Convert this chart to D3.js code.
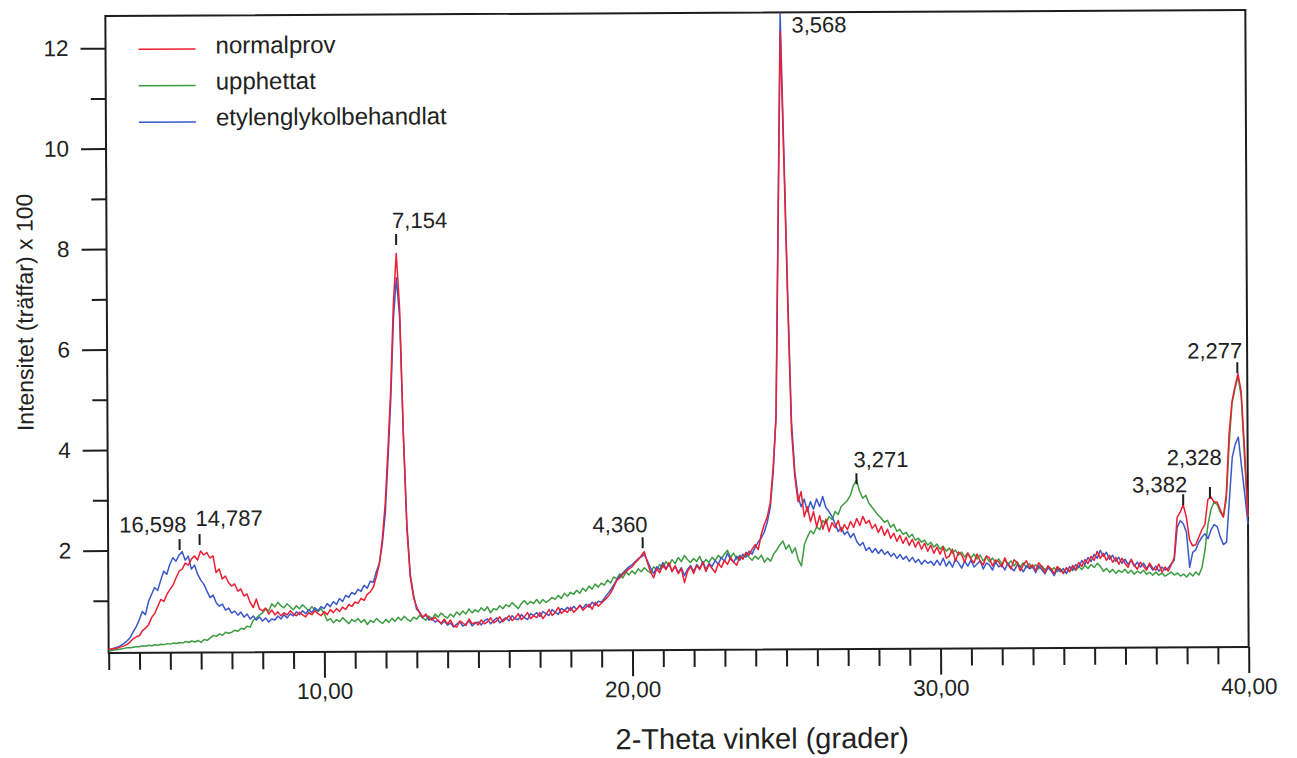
<!DOCTYPE html>
<html>
<head>
  <meta charset="utf-8">
  <title>Röntgendiffraktogram</title>
  <script src="https://d3js.org/d3.v7.min.js"></script>
  <style>
    body {
      margin: 0;
      background: #fff;
      font-family: 'Liberation Sans', Arial, Helvetica, sans-serif;
    }
    svg { display: block; }
    .axis text { fill: #222; font-size: 22.5px; font-family: 'Liberation Sans', Arial, sans-serif; }
    .axis line { stroke: #1e1e1e; stroke-width: 2px; }
    .axis path { display: none; }
    .series { fill: none; stroke-width: 1.5px; stroke-linejoin: round; }
    .peak-label { font-size: 22px; fill: #222; }
    .legend-text { font-size: 24px; fill: #222; }
  </style>
</head>
<body>
  <svg id="chart" width="1297" height="758"></svg>
  <script>
    // 2-theta grid: 3,0 .. 40,0 in steps of 0,1 degrees
    const angleStart = 3;
    const angleStep = 0.1;

    const seriesNames = ["normalprov", "upphettat", "etylenglykolbehandlat"];

    // intensity (träffar x 100), one row per degree
    const normalprov = [
      0.03, 0.04, 0.05, 0.06, 0.08, 0.10, 0.13, 0.18, 0.24, 0.28,
      0.30, 0.40, 0.45, 0.52, 0.66, 0.74, 0.88, 1.02, 0.98, 1.12,
      1.22, 1.30, 1.45, 1.58, 1.62, 1.74, 1.70, 1.82, 1.88, 1.80,
      1.98, 1.90, 1.95, 1.84, 1.88, 1.55, 1.62, 1.42, 1.48, 1.35,
      1.28, 1.32, 1.18, 1.22, 1.08, 1.12, 0.95, 0.85, 1.02, 0.82,
      0.78, 0.84, 0.72, 0.80, 0.70, 0.76, 0.68, 0.74, 0.70, 0.78,
      0.72, 0.68, 0.75, 0.70, 0.66, 0.74, 0.70, 0.78, 0.72, 0.68,
      0.76, 0.70, 0.80, 0.74, 0.82, 0.76, 0.85, 0.80, 0.90, 0.86,
      0.95, 0.92, 1.02, 0.98, 1.10, 1.15, 1.24, 1.45, 1.70, 2.20,
      2.90, 4.00, 5.20, 6.90, 7.88, 6.80, 4.30, 2.40, 1.45, 1.05,
      0.85, 0.72, 0.64, 0.70, 0.62, 0.58, 0.64, 0.56, 0.52, 0.60,
      0.50, 0.58, 0.46, 0.44, 0.56, 0.52, 0.47, 0.60, 0.50, 0.53,
      0.48, 0.58, 0.50, 0.54, 0.62, 0.52, 0.56, 0.64, 0.54, 0.60,
      0.66, 0.56, 0.62, 0.70, 0.58, 0.64, 0.72, 0.60, 0.66, 0.62,
      0.72, 0.60, 0.68, 0.78, 0.66, 0.72, 0.82, 0.70, 0.76, 0.72,
      0.82, 0.72, 0.78, 0.86, 0.76, 0.82, 0.88, 0.78, 0.92, 0.84,
      0.90, 0.96, 1.02, 1.10, 1.22, 1.35, 1.40, 1.48, 1.52, 1.58,
      1.62, 1.70, 1.76, 1.84, 1.92, 1.70, 1.52, 1.40, 1.58, 1.50,
      1.66, 1.56, 1.70, 1.52, 1.64, 1.48, 1.58, 1.30, 1.52, 1.62,
      1.48, 1.64, 1.56, 1.70, 1.52, 1.66, 1.58, 1.50, 1.68, 1.60,
      1.74, 1.66, 1.80, 1.70, 1.64, 1.82, 1.76, 1.90, 1.84, 1.96,
      2.05, 1.95, 2.25, 2.45, 2.60, 2.90, 3.60, 4.60, 8.40, 12.26,
      9.60, 6.80, 4.30, 3.40, 2.90, 3.10, 2.60, 2.80, 2.50, 2.70,
      2.40, 2.62, 2.35, 2.55, 2.30, 2.48, 2.38, 2.52, 2.30, 2.44,
      2.34, 2.50, 2.38, 2.56, 2.42, 2.60, 2.46, 2.52, 2.36, 2.44,
      2.28, 2.40, 2.22, 2.34, 2.16, 2.26, 2.10, 2.22, 2.06, 2.18,
      2.02, 2.14, 1.98, 2.10, 1.94, 2.06, 1.90, 2.02, 1.86, 1.98,
      1.84, 1.98, 1.76, 1.80, 1.94, 1.70, 1.88, 1.82, 1.68, 1.86,
      1.74, 1.66, 1.84, 1.70, 1.62, 1.80, 1.76, 1.60, 1.72, 1.68,
      1.58, 1.76, 1.62, 1.54, 1.72, 1.66, 1.50, 1.62, 1.70, 1.56,
      1.62, 1.50, 1.66, 1.58, 1.46, 1.60, 1.54, 1.44, 1.58, 1.52,
      1.44, 1.56, 1.48, 1.60, 1.52, 1.66, 1.58, 1.72, 1.64, 1.78,
      1.70, 1.88, 1.74, 1.84, 1.70, 1.80, 1.66, 1.76, 1.62, 1.74,
      1.64, 1.56, 1.72, 1.60, 1.52, 1.66, 1.58, 1.50, 1.64, 1.54,
      1.50, 1.62, 1.46, 1.56, 1.48, 1.60, 1.75, 2.55, 2.65, 2.80,
      2.55, 2.10, 1.98, 2.00, 2.15, 2.30, 2.40, 2.90, 2.95, 2.85,
      2.85, 2.70, 2.55, 3.00, 4.20, 4.85, 5.15, 5.40, 5.05, 3.90,
      2.55
    ];

    const upphettat = [
      0.00, 0.01, 0.02, 0.03, 0.04, 0.05, 0.06, 0.06, 0.07, 0.08,
      0.08, 0.10, 0.09, 0.11, 0.10, 0.12, 0.11, 0.13, 0.12, 0.14,
      0.13, 0.15, 0.14, 0.16, 0.15, 0.18, 0.16, 0.19, 0.17, 0.20,
      0.16, 0.22, 0.20, 0.25, 0.30, 0.28, 0.33, 0.30, 0.36, 0.34,
      0.36, 0.40, 0.38, 0.44, 0.42, 0.48, 0.46, 0.60, 0.64, 0.70,
      0.74, 0.82, 0.78, 0.92, 0.86, 0.95, 0.88, 0.84, 0.92, 0.86,
      0.80, 0.88, 0.82, 0.90, 0.84, 0.78, 0.86, 0.80, 0.76, 0.82,
      0.72, 0.58, 0.62, 0.54, 0.60, 0.56, 0.64, 0.58, 0.52, 0.60,
      0.56, 0.62, 0.54, 0.60, 0.50, 0.58, 0.54, 0.62, 0.56, 0.52,
      0.60, 0.54, 0.62, 0.56, 0.64, 0.58, 0.66, 0.60, 0.56, 0.64,
      0.60, 0.68, 0.62, 0.58, 0.66, 0.60, 0.70, 0.64, 0.72, 0.66,
      0.62, 0.70, 0.64, 0.74, 0.68, 0.76, 0.70, 0.80, 0.72, 0.78,
      0.74, 0.82, 0.76, 0.84, 0.72, 0.80, 0.78, 0.86, 0.80, 0.88,
      0.84, 0.92, 0.86, 0.80, 0.90, 0.96, 0.88, 0.94, 0.90, 0.98,
      0.90, 0.98, 0.92, 0.96, 1.02, 0.98, 1.06, 1.00, 1.10, 1.04,
      1.12, 1.08, 1.16, 1.10, 1.20, 1.14, 1.24, 1.18, 1.28, 1.22,
      1.30, 1.26, 1.36, 1.30, 1.42, 1.38, 1.48, 1.40, 1.52, 1.46,
      1.54, 1.48, 1.58, 1.52, 1.60, 1.54, 1.50, 1.62, 1.56, 1.66,
      1.60, 1.72, 1.64, 1.76, 1.68, 1.80, 1.72, 1.84, 1.76, 1.70,
      1.78, 1.72, 1.82, 1.68, 1.76, 1.70, 1.80, 1.74, 1.84, 1.78,
      1.86, 1.94, 1.80, 1.88, 1.76, 1.84, 1.78, 1.86, 1.80, 1.74,
      1.82, 1.76, 1.84, 1.70, 1.78, 1.72, 1.86, 1.94, 2.04, 2.12,
      1.96, 2.04, 1.88, 1.98, 1.74, 1.62, 2.05, 2.20, 2.32, 2.26,
      2.40, 2.34, 2.52, 2.46, 2.60, 2.54, 2.70, 2.64, 2.80, 2.86,
      2.92, 3.02, 3.22, 3.32, 3.10, 2.96, 3.02, 2.86, 2.78, 2.70,
      2.62, 2.56, 2.48, 2.52, 2.38, 2.44, 2.30, 2.34, 2.24, 2.28,
      2.18, 2.24, 2.12, 2.16, 2.08, 2.12, 2.02, 2.08, 1.98, 2.04,
      1.94, 2.00, 1.90, 1.96, 1.86, 1.92, 1.82, 1.88, 1.78, 1.86,
      1.76, 1.84, 1.74, 1.82, 1.70, 1.78, 1.68, 1.76, 1.66, 1.74,
      1.64, 1.72, 1.62, 1.70, 1.60, 1.68, 1.58, 1.66, 1.56, 1.64,
      1.56, 1.62, 1.54, 1.60, 1.52, 1.58, 1.50, 1.56, 1.48, 1.54,
      1.46, 1.54, 1.48, 1.56, 1.50, 1.58, 1.52, 1.60, 1.54, 1.62,
      1.56, 1.64, 1.58, 1.48, 1.54, 1.46, 1.52, 1.44, 1.50, 1.46,
      1.52, 1.44, 1.50, 1.42, 1.48, 1.44, 1.50, 1.42, 1.46, 1.40,
      1.46, 1.40, 1.44, 1.38, 1.42, 1.46, 1.40, 1.44, 1.38, 1.42,
      1.36, 1.44, 1.38, 1.46, 1.40, 1.55, 1.90, 2.40, 2.70, 2.85,
      2.80, 2.65, 2.55, 2.90, 4.00, 4.80, 5.10, 5.35, 4.95, 3.70,
      2.55
    ];

    const etylenglykolbehandlat = [
      0.03, 0.04, 0.06, 0.08, 0.11, 0.15, 0.20, 0.26, 0.38, 0.48,
      0.62, 0.78, 0.72, 0.98, 1.12, 1.26, 1.20, 1.40, 1.58, 1.52,
      1.72, 1.85, 1.78, 1.90, 1.97, 1.80, 1.88, 1.62, 1.70, 1.52,
      1.40, 1.32, 1.18, 1.05, 1.10, 0.95, 0.88, 0.92, 0.80, 0.84,
      0.74, 0.78, 0.70, 0.76, 0.66, 0.72, 0.62, 0.68, 0.60, 0.66,
      0.58, 0.64, 0.56, 0.62, 0.60, 0.68, 0.62, 0.70, 0.64, 0.72,
      0.68, 0.76, 0.70, 0.78, 0.72, 0.80, 0.74, 0.84, 0.78, 0.86,
      0.82, 0.92, 0.86, 0.96, 0.90, 1.02, 0.96, 1.08, 1.04, 1.14,
      1.10, 1.20, 1.16, 1.28, 1.22, 1.36, 1.34, 1.55, 1.72, 2.10,
      2.70, 3.80, 5.00, 6.60, 7.40, 6.60, 4.30, 2.50, 1.50, 1.10,
      0.80, 0.74, 0.64, 0.68, 0.58, 0.62, 0.54, 0.58, 0.50, 0.56,
      0.48, 0.52, 0.44, 0.50, 0.54, 0.46, 0.50, 0.56, 0.46, 0.52,
      0.54, 0.48, 0.56, 0.60, 0.50, 0.56, 0.62, 0.52, 0.58, 0.62,
      0.56, 0.66, 0.60, 0.58, 0.68, 0.62, 0.58, 0.70, 0.66, 0.72,
      0.64, 0.74, 0.70, 0.66, 0.78, 0.72, 0.68, 0.80, 0.76, 0.82,
      0.76, 0.84, 0.78, 0.86, 0.80, 0.88, 0.82, 0.92, 0.86, 0.94,
      0.92, 1.00, 1.08, 1.16, 1.26, 1.36, 1.44, 1.50, 1.56, 1.62,
      1.66, 1.72, 1.78, 1.82, 1.86, 1.74, 1.60, 1.48, 1.62, 1.56,
      1.70, 1.58, 1.66, 1.54, 1.62, 1.50, 1.60, 1.44, 1.56, 1.64,
      1.52, 1.66, 1.58, 1.72, 1.56, 1.68, 1.62, 1.74, 1.66, 1.80,
      1.72, 1.88, 1.76, 1.70, 1.82, 1.74, 1.86, 1.80, 1.92, 1.86,
      2.00, 2.10, 2.18, 2.30, 2.50, 2.80, 3.50, 4.60, 8.60, 12.62,
      9.80, 7.00, 4.50, 3.50, 3.00, 2.80, 2.95, 2.70, 2.90, 2.75,
      2.95, 2.80, 3.00, 2.78, 2.70, 2.60, 2.45, 2.30, 2.38, 2.24,
      2.30, 2.18, 2.26, 2.10, 2.02, 2.08, 1.92, 1.98, 1.88, 1.96,
      1.86, 1.94, 1.84, 1.90, 1.80, 1.86, 1.76, 1.84, 1.74, 1.80,
      1.70, 1.78, 1.68, 1.74, 1.64, 1.72, 1.66, 1.70, 1.62, 1.72,
      1.62, 1.76, 1.60, 1.70, 1.58, 1.74, 1.66, 1.56, 1.70, 1.60,
      1.72, 1.58, 1.64, 1.70, 1.54, 1.66, 1.62, 1.52, 1.68, 1.58,
      1.62, 1.52, 1.66, 1.56, 1.50, 1.62, 1.58, 1.48, 1.60, 1.54,
      1.58, 1.46, 1.60, 1.52, 1.44, 1.56, 1.50, 1.40, 1.54, 1.48,
      1.54, 1.44, 1.58, 1.50, 1.62, 1.56, 1.70, 1.62, 1.76, 1.68,
      1.82, 1.74, 1.90, 1.78, 1.86, 1.72, 1.80, 1.68, 1.76, 1.64,
      1.72, 1.62, 1.70, 1.58, 1.66, 1.56, 1.64, 1.54, 1.60, 1.50,
      1.58, 1.48, 1.56, 1.50, 1.54, 1.62, 1.70, 2.35, 2.48, 2.42,
      2.25, 1.55, 1.85, 1.90, 2.05, 2.15, 2.22, 2.12, 2.30, 2.40,
      2.36, 2.15, 2.00, 2.05, 2.90, 3.74, 4.00, 4.14, 3.55, 3.00,
      2.40
    ];

    // d-values (Å) written above the peaks
    const peakLabels = ["16,598", "14,787", "7,154", "4,360", "3,568", "3,271", "3,382", "2,328", "2,277"];
    const peakAngles = [5.32, 5.97, 12.40, 20.35, 24.94, 27.30, 37.90, 38.77, 39.68];
    const peakLevels = [2.00, 2.10, 8.05, 1.99, 12.24, 3.24, 2.79, 2.93, 5.41];

    const xTickMajor = [10, 20, 30, 40];
    const yTickMajor = [2, 4, 6, 8, 10, 12];

    const svg = d3.select("#chart");
    const plotLeft = 107, plotRight = 1247, plotTop = 13, plotBottom = 650;

    // the scanned original is tilted slightly
    const g = svg.append("g").attr("transform", "rotate(-0.3, 677, 331)");

    const x = d3.scaleLinear().domain([3, 40]).range([plotLeft, plotRight]);
    const y = d3.scaleLinear().domain([-0.04, 12.64]).range([plotBottom, plotTop]);

    const colors = { normalprov: "#ee1f33", upphettat: "#3c9c40", etylenglykolbehandlat: "#3a58c8" };
    const seriesData = { normalprov, upphettat, etylenglykolbehandlat };
    const fmt = v => v.toFixed(2).replace(".", ",");

    // x axis
    const xAxis = d3.axisBottom(x)
      .tickValues(d3.range(3, 41))
      .tickSizeInner(17)
      .tickSizeOuter(0)
      .tickPadding(14)
      .tickFormat(d => xTickMajor.includes(d) ? fmt(d) : "");
    const xg = g.append("g").attr("class", "axis").attr("transform", `translate(0,${plotBottom})`).call(xAxis);
    xg.selectAll(".tick").filter(d => xTickMajor.includes(d)).select("line").attr("y2", 26);

    // y axis
    const yAxis = d3.axisLeft(y)
      .tickValues(d3.range(1, 13))
      .tickSizeInner(15)
      .tickSizeOuter(0)
      .tickPadding(22)
      .tickFormat(d => yTickMajor.includes(d) ? d : "");
    const yg = g.append("g").attr("class", "axis").attr("transform", `translate(${plotLeft},0)`).call(yAxis);
    yg.selectAll(".tick").filter(d => yTickMajor.includes(d)).select("line").attr("x2", -25);

    // frame
    g.append("rect")
      .attr("x", plotLeft).attr("y", plotTop)
      .attr("width", plotRight - plotLeft).attr("height", plotBottom - plotTop)
      .attr("fill", "none").attr("stroke", "#1e1e1e").attr("stroke-width", 2);

    // series
    const line = d3.line()
      .x((d, i) => x(angleStart + i * angleStep))
      .y(d => y(d));

    ["upphettat", "etylenglykolbehandlat", "normalprov"].forEach(name => {
      g.append("path")
        .datum(seriesData[name])
        .attr("class", "series")
        .attr("stroke", colors[name])
        .attr("d", line);
    });

    // peak annotations: anchor, horizontal shift, gap between mark and text
    const labelLayout = [
      { anchor: "end", dx: 7, gap: 7, mark: true },
      { anchor: "start", dx: -4, gap: 8, mark: true },
      { anchor: "start", dx: -4, gap: 6, mark: true },
      { anchor: "end", dx: 5, gap: 5, mark: true },
      { anchor: "start", dx: 10, gap: 0, mark: false },
      { anchor: "start", dx: -3, gap: 6, mark: true },
      { anchor: "end", dx: 4, gap: 2, mark: true },
      { anchor: "end", dx: 12, gap: 22, mark: true },
      { anchor: "end", dx: 5, gap: 4, mark: true }
    ];
    peakLabels.forEach((label, i) => {
      const px = x(peakAngles[i]);
      const py = y(peakLevels[i]);
      const lay = labelLayout[i];
      let baseY = py;
      if (lay.mark) {
        g.append("line")
          .attr("x1", px).attr("x2", px)
          .attr("y1", py).attr("y2", py - 11)
          .attr("stroke", "#1e1e1e").attr("stroke-width", 2);
        baseY = py - 11 - lay.gap;
      }
      g.append("text")
        .attr("class", "peak-label")
        .attr("x", px + lay.dx)
        .attr("y", baseY)
        .attr("text-anchor", lay.anchor)
        .text(label);
    });

    // legend
    const legend = g.append("g");
    seriesNames.forEach((name, i) => {
      legend.append("line")
        .attr("x1", 140).attr("x2", 197)
        .attr("y1", 46.5 + i * 36.5).attr("y2", 46.5 + i * 36.5)
        .attr("stroke", colors[name]).attr("stroke-width", 1.5);
      legend.append("text")
        .attr("class", "legend-text")
        .attr("x", 217).attr("y", 51 + i * 36)
        .text(name);
    });

    // axis titles
    g.append("text")
      .attr("x", 760).attr("y", 749)
      .attr("text-anchor", "middle")
      .attr("font-size", 29)
      .attr("fill", "#222")
      .text("2-Theta vinkel (grader)");

    g.append("text")
      .attr("transform", "translate(33,309) rotate(-90)")
      .attr("text-anchor", "middle")
      .attr("font-size", 23)
      .attr("fill", "#222")
      .text("Intensitet (träffar) x 100");
  </script>
</body>
</html>
